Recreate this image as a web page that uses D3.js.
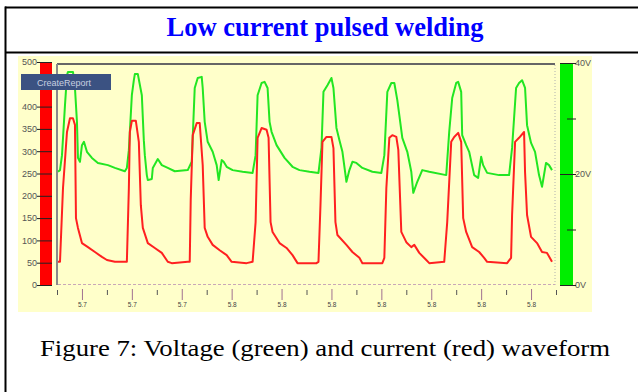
<!DOCTYPE html>
<html><head><meta charset="utf-8">
<script src="https://cdn.jsdelivr.net/npm/d3@7/dist/d3.min.js"></script>
<style>html,body{margin:0;padding:0;background:#fff;}svg{display:block;}</style>
</head><body>
<svg id="chart" width="638" height="392"></svg>
<script>
// ---- data (time in ms from start of trace) ----
const currentTime = [0.3,0.9,1.8,3.0,3.9,4.8,5.4,5.7,6.3,7.5,9.3,11.4,13.5,15.0,17.4,20.4,21.0,
  21.6,21.9,22.5,23.7,24.6,25.2,25.8,27.3,29.4,31.5,33.3,34.5,39.3,
  39.9,40.2,40.8,42.0,42.9,43.8,44.4,45.3,46.8,48.9,51.0,52.5,57.0,58.8,
  59.7,60.3,61.5,63.0,63.6,64.2,64.8,66.9,69.0,70.8,72.3,78.0,78.6,
  79.2,79.8,81.0,82.5,83.1,83.7,84.3,87.0,88.8,90.9,91.8,97.8,98.4,
  99.0,99.9,100.8,102.0,102.6,103.5,105.0,106.5,107.4,108.9,111.0,111.9,116.4,
  117.3,118.5,119.4,120.6,121.5,122.1,123.0,124.8,126.9,128.4,129.3,135.3,136.5,
  136.8,137.7,138.9,140.4,140.7,141.3,142.5,144.3,145.8,147.3,148.8];
const currentA = [52,52,217,343,374,374,359,150,128,94,85,74,63,56,52,52,52,
  217,343,368,368,321,179,128,94,83,72,52,49,52,
  52,191,336,363,363,269,128,108,90,78,67,52,49,52,
  141,330,352,348,330,141,119,94,83,67,49,49,52,
  179,321,332,332,307,141,112,90,74,61,49,49,61,
  217,330,336,332,303,119,96,85,90,72,56,49,52,
  141,321,332,341,321,150,119,85,74,61,52,49,61,
  157,321,330,343,253,157,108,94,74,72,52];
const voltageTime = [0.3,0.9,1.5,2.4,3.0,3.3,4.8,5.4,6.0,6.3,6.9,7.5,8.1,9.0,10.5,12.3,15.3,17.4,20.4,21.0,
  21.6,22.5,23.1,23.4,24.3,25.5,26.1,26.4,27.0,27.3,28.5,28.8,30.3,31.5,33.3,35.4,39.3,
  40.5,41.4,42.3,43.5,43.8,44.4,45.3,46.8,48.0,48.6,49.5,50.1,51.0,52.8,55.8,58.8,
  59.7,60.3,61.5,62.4,63.3,63.9,64.5,66.0,68.4,70.8,72.9,75.9,78.6,
  79.5,80.1,81.3,82.5,83.1,84.0,84.9,85.8,87.0,87.9,88.8,90.0,91.8,94.8,97.5,
  98.4,99.3,100.5,101.4,102.3,102.9,103.8,105.3,106.5,107.1,108.3,109.8,111.9,117.0,
  117.9,118.8,120.0,120.6,121.5,121.8,123.0,123.9,125.4,126.6,127.5,128.1,129.3,132.9,135.9,
  136.8,138.0,138.9,139.8,140.7,141.3,142.5,143.7,144.9,145.8,147.0,147.9,148.8];
const voltageV = [20.4,20.7,23.4,32.4,37.8,38.4,38.4,35.5,29.4,22.9,22.2,25.2,25.8,24.0,22.9,22.0,21.6,21.1,20.5,21.1,
  24.3,34.2,36.9,38.0,38.0,34.2,26.1,23.4,19.8,18.9,19.1,21.1,22.7,21.6,21.1,20.5,20.7,
  22.2,35.5,37.3,37.5,35.5,29.4,25.8,24.0,21.6,18.9,22.5,22.2,21.3,20.7,20.4,20.2,
  23.4,34.2,36.4,36.6,35.5,29.4,27.6,25.2,22.9,21.3,20.7,20.4,20.2,
  24.7,34.8,36.0,37.3,35.5,28.3,26.1,24.0,18.6,20.7,22.2,22.0,21.1,20.4,20.2,
  23.4,34.8,36.4,36.4,33.3,30.6,26.5,24.0,20.4,16.6,18.6,20.7,20.4,19.8,
  27.6,33.7,36.4,36.6,34.8,27.0,25.2,24.0,19.8,19.3,23.1,21.6,20.2,19.8,19.8,
  24.7,35.5,36.4,36.9,35.5,28.8,25.6,24.0,19.8,17.7,22.0,21.6,20.7];
const currentTicks = [0,50,100,150,200,250,300,350,400,450,500];
const currentTickLabels = {0:"0",50:"50",100:"100",150:"150",200:"200",250:"250",300:"300",350:"350",400:"400",500:"500"}; // 450 hidden under button
const voltageTicks = [0,10,20,30,40];
const voltageTickLabels = {0:"0V",20:"20V",40:"40V"};
const minorTimeTicks = [0,15,30,45,60,75,90,105,120,135,150];
const majorTimeTicks = [7.5,22.5,37.5,52.5,67.5,82.5,97.5,112.5,127.5,142.5];
const timeTickLabels = ["5.7","5.7","5.7","5.8","5.8","5.8","5.8","5.8","5.8","5.8"];
const titleText = "Low current pulsed welding";
const captionText = "Figure 7: Voltage (green) and current (red) waveform";

// ---- drawing ----
const svg = d3.select("#chart");
const W = 638, H = 392;
svg.append("rect").attr("width", W).attr("height", H).attr("fill", "#fff");

// table frame
svg.append("line").attr("x1",5).attr("x2",W).attr("y1",7.5).attr("y2",7.5).attr("stroke","#000").attr("stroke-width",2);
svg.append("line").attr("x1",5).attr("x2",W).attr("y1",52.5).attr("y2",52.5).attr("stroke","#000").attr("stroke-width",2);
svg.append("line").attr("x1",5.5).attr("x2",5.5).attr("y1",6.5).attr("y2",H).attr("stroke","#000").attr("stroke-width",2);

svg.append("text").attr("x",325).attr("y",36).attr("text-anchor","middle")
  .attr("font-family","'Liberation Serif','Times New Roman',serif").attr("font-weight","bold")
  .attr("font-size",26.5).attr("fill","#0000ff").text(titleText);

// scope panel
svg.append("rect").attr("x",18).attr("y",56).attr("width",574).attr("height",256).attr("fill","#ffffca");

const x = d3.scaleLinear().domain([0,150]).range([57,556]);
const yA = d3.scaleLinear().domain([0,500]).range([285,62]);
const yV = d3.scaleLinear().domain([0,40]).range([285,63]);

// frame lines of plot
svg.append("line").attr("x1",57).attr("x2",555).attr("y1",64).attr("y2",64).attr("stroke","#666").attr("stroke-width",2);
svg.append("line").attr("x1",57).attr("x2",57).attr("y1",64).attr("y2",285).attr("stroke","#8a8a8a").attr("stroke-width",2);
svg.append("line").attr("x1",555).attr("x2",555).attr("y1",65).attr("y2",285).attr("stroke","#b0b0b0").attr("stroke-width",1).attr("stroke-dasharray","1,2");
svg.append("line").attr("x1",58).attr("x2",555).attr("y1",284.5).attr("y2",284.5).attr("stroke","#c8a8b8").attr("stroke-width",1).attr("stroke-dasharray","3,2");

// left (current) axis bar
svg.append("rect").attr("x",40).attr("y",yA(500)).attr("width",12).attr("height",yA(0)-yA(500)).attr("fill","#ff0000");
const leftAxis = d3.axisLeft(yA).tickValues(currentTicks).tickSize(15).tickPadding(1).tickFormat(d => currentTickLabels[d] || "");
const gL = svg.append("g").attr("transform","translate(52,0)").call(leftAxis);
gL.select(".domain").remove();
gL.selectAll(".tick line").attr("stroke","#222").attr("stroke-width",1);
gL.selectAll(".tick text").attr("font-family","'Liberation Sans',Arial,sans-serif").attr("font-size",9).attr("fill","#555").attr("x",-15);

// right (voltage) axis bar
svg.append("rect").attr("x",560).attr("y",yV(40)).attr("width",13).attr("height",yV(0)-yV(40)).attr("fill","#00ee00");
const rightAxis = d3.axisRight(yV).tickValues(voltageTicks).tickSize(0).tickFormat(d => voltageTickLabels[d] || "");
const gR = svg.append("g").attr("transform","translate(573,0)").call(rightAxis);
gR.select(".domain").remove();
gR.selectAll(".tick line").remove();
gR.selectAll(".tick").append("line").attr("x1", d => voltageTickLabels[d] ? -13 : -6).attr("x2", 3).attr("stroke","#222");
gR.selectAll(".tick text").attr("font-family","'Liberation Sans',Arial,sans-serif").attr("font-size",9).attr("fill","#555").attr("x",2);

// time axis
const gMinor = svg.append("g").attr("transform","translate(0,290)")
  .call(d3.axisBottom(x).tickValues(minorTimeTicks).tickSize(5).tickFormat(""));
gMinor.select(".domain").remove();
gMinor.selectAll(".tick line").attr("stroke","#555");
const gMajor = svg.append("g").attr("transform","translate(0,289)")
  .call(d3.axisBottom(x).tickValues(majorTimeTicks).tickSize(11).tickPadding(2).tickFormat((d,i) => timeTickLabels[i]));
gMajor.select(".domain").remove();
gMajor.selectAll(".tick line").attr("stroke","#a07090");
gMajor.selectAll(".tick text").attr("font-family","'Liberation Sans',Arial,sans-serif").attr("font-size",6.5).attr("fill","#444");

// waveforms
const curPts = currentTime.map((t,i) => [t, currentA[i]]);
const voltPts = voltageTime.map((t,i) => [t, voltageV[i]]);
svg.append("path").datum(voltPts).attr("fill","none").attr("stroke","#22e622").attr("stroke-width",2)
  .attr("stroke-linejoin","round").attr("d", d3.line().x(d => x(d[0])).y(d => yV(d[1])));
svg.append("path").datum(curPts).attr("fill","none").attr("stroke","#ff2020").attr("stroke-width",2)
  .attr("stroke-linejoin","round").attr("d", d3.line().x(d => x(d[0])).y(d => yA(d[1])));

// CreateReport button
svg.append("rect").attr("x",21).attr("y",74).attr("width",90).attr("height",16).attr("fill","#3b5282");
svg.append("text").attr("x",37).attr("y",85.5).attr("font-family","'Liberation Sans',Arial,sans-serif")
  .attr("font-size",9).attr("fill","#c8d0e0").text("CreateReport");

// caption
svg.append("text").attr("x",40).attr("y",356)
  .attr("font-family","'Liberation Serif','Times New Roman',serif").attr("font-size",23)
  .attr("fill","#000").attr("textLength",570).attr("lengthAdjust","spacingAndGlyphs").text(captionText);
</script>
</body></html>
